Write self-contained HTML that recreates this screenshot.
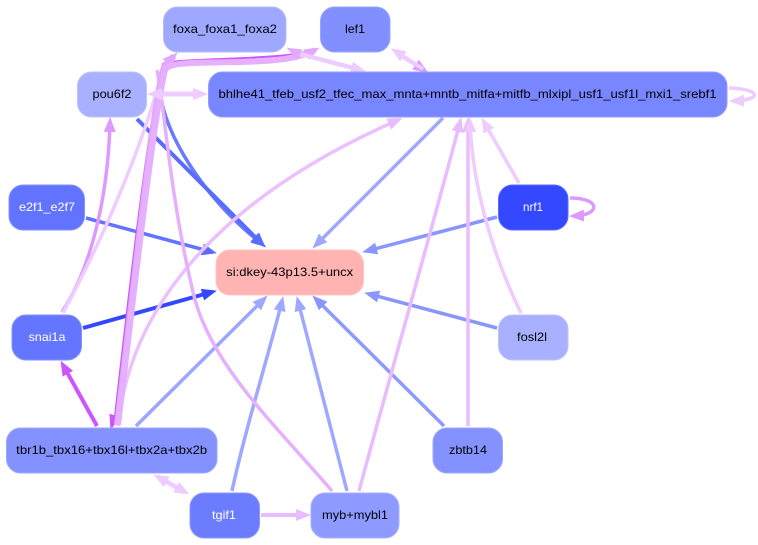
<!DOCTYPE html>
<html><head><meta charset="utf-8"><style>html,body{margin:0;padding:0;background:#fff}svg{display:block}text{font-family:"Liberation Sans",sans-serif;font-size:12px;text-anchor:middle}</style></head><body>
<svg width="758" height="545" viewBox="0 0 758 545" xmlns="http://www.w3.org/2000/svg">
<defs>
<marker id="a" markerUnits="userSpaceOnUse" markerWidth="16" markerHeight="14" refX="10" refY="7" orient="auto"><path d="M0,1L15,7L0,13z" fill="#eeccff"/></marker>
<marker id="b" markerUnits="userSpaceOnUse" markerWidth="16" markerHeight="14" refX="10" refY="7" orient="auto"><path d="M0,1L15,7L0,13z" fill="#e8bcff"/></marker>
<marker id="c" markerUnits="userSpaceOnUse" markerWidth="16" markerHeight="14" refX="10" refY="7" orient="auto"><path d="M0,1L15,7L0,13z" fill="#dd99ff"/></marker>
<marker id="d" markerUnits="userSpaceOnUse" markerWidth="16" markerHeight="14" refX="10" refY="7" orient="auto"><path d="M0,1L15,7L0,13z" fill="#cc55ff"/></marker>
<marker id="e" markerUnits="userSpaceOnUse" markerWidth="16" markerHeight="14" refX="10" refY="7" orient="auto"><path d="M0,1L15,7L0,13z" fill="#9fa8ff"/></marker>
<marker id="f" markerUnits="userSpaceOnUse" markerWidth="16" markerHeight="14" refX="10" refY="7" orient="auto"><path d="M0,1L15,7L0,13z" fill="#8a96ff"/></marker>
<marker id="g" markerUnits="userSpaceOnUse" markerWidth="16" markerHeight="14" refX="10" refY="7" orient="auto"><path d="M0,1L15,7L0,13z" fill="#5a6cff"/></marker>
<marker id="h" markerUnits="userSpaceOnUse" markerWidth="16" markerHeight="14" refX="10" refY="7" orient="auto"><path d="M0,1L15,7L0,13z" fill="#3348ff"/></marker>
<marker id="i" markerUnits="userSpaceOnUse" markerWidth="16" markerHeight="14" refX="10" refY="7" orient="auto"><path d="M0,1L15,7L0,13z" fill="#e0a8ff"/></marker>
</defs>
<g fill="none" stroke-width="3.5">
<path d="M160,90C163,130 200,195 262,244" stroke="#6a7aff" marker-end="url(#g)"/>
<path d="M137,119L262,244" stroke="#5a6cff" stroke-width="4" marker-end="url(#g)"/>
<path d="M86,218L212,252" stroke="#6274ff" marker-end="url(#g)"/>
<path d="M443,118L316,245" stroke="#9fa8ff" marker-end="url(#e)"/>
<path d="M497,217L367,251" stroke="#8a96ff" marker-end="url(#f)"/>
<path d="M497,328L369,294" stroke="#8a96ff" marker-end="url(#f)"/>
<path d="M83,328L212,292" stroke="#3348ff" stroke-width="4" marker-end="url(#h)"/>
<path d="M136,426L264,299" stroke="#9aa6ff" marker-end="url(#e)"/>
<path d="M232,491C245,430 270,350 282,301" stroke="#9fa8ff" marker-end="url(#e)"/>
<path d="M347,491L298,301" stroke="#9fa8ff" marker-end="url(#e)"/>
<path d="M444,426L316,299" stroke="#8e9aff" marker-end="url(#f)"/>
<path d="M468,426L468,122" stroke="#ebbcff" marker-end="url(#b)"/>
<path d="M359,491C400,340 440,200 460,122" stroke="#e8bcff" marker-end="url(#b)"/>
<path d="M521,313C490,250 472,180 470,122" stroke="#eeccff" marker-end="url(#a)"/>
<path d="M519,183L484,122" stroke="#eeccff" marker-end="url(#a)"/>
<path d="M118,426C130,310 215,200 398,120" stroke="#ebc0ff" marker-end="url(#b)"/>
<path d="M62,312C90,270 108,200 110,122" stroke="#dd99ff" marker-end="url(#c)"/>
<path d="M63,313C105,235 145,140 163,68" stroke="#eeccff"/>
<path d="M97,426L63,365" stroke="#cc55ff" stroke-width="4" marker-end="url(#d)"/>
<path d="M332,491C280,430 215,370 195,300C170,200 165,110 157,70" stroke="#e6b0ff"/>
<path d="M113,422L112,425" stroke="#cc55ff" marker-end="url(#d)"/>
<path d="M114,425C126,320 148,120 163,64C168,58 290,60 307,51" stroke="#cc55ff" stroke-width="2"/>
<path d="M117,425C130,320 150,125 163,70C166,62 172,58 174,56" stroke="#e0a8ff" stroke-width="6" marker-end="url(#i)"/>
<path d="M118,425C131,320 152,125 165,70C170,62 190,63 240,62C280,61 300,58 315,50" stroke="#e6b0ff" stroke-width="6" marker-end="url(#i)"/>
<path d="M300,54L361,70" stroke="#eeccff" stroke-width="4.5" marker-end="url(#a)"/>
<path d="M300,55L291,50" stroke="#e6b0ff" stroke-width="4" marker-end="url(#i)"/>
<path d="M396,52L424,70" stroke="#e0a0ff" stroke-width="4" marker-end="url(#c)"/>
<path d="M423,69L395,51" stroke="#eeccff" stroke-width="4" marker-end="url(#a)"/>
<path d="M160,94L203,94" stroke="#eeccff" stroke-width="5" marker-end="url(#a)"/>
<path d="M165,94L152,94" stroke="#eeccff" stroke-width="4" marker-end="url(#a)"/>
<path d="M729,88C762,89 762,100 734,101" stroke="#eeccff" marker-end="url(#a)"/>
<path d="M570,198C601,198 601,215 574,216" stroke="#dd99ff" marker-end="url(#c)"/>
<path d="M158,477L185,492" stroke="#eeccff" stroke-width="4.5" marker-end="url(#a)"/>
<path d="M185,492L158,477" stroke="#eeccff" stroke-width="4.5" marker-end="url(#a)"/>
<path d="M261,515L306,515" stroke="#e8bcff" stroke-width="4" marker-end="url(#b)"/>
</g>
<g stroke-width="1">
<rect x="163.5" y="7" width="122.5" height="45" rx="14" fill="#9fa8ff" stroke="#b4bbff"/>
<rect x="320.5" y="7" width="69.5" height="45" rx="14" fill="#8290ff" stroke="#98a3ff"/>
<rect x="77.5" y="72" width="69" height="45" rx="14" fill="#a8b0ff" stroke="#bcc2ff"/>
<rect x="208.5" y="72" width="518.5" height="45" rx="14" fill="#7886ff" stroke="#929dff"/>
<rect x="9" y="185" width="75.5" height="45" rx="14" fill="#6274ff" stroke="#8492ff"/>
<rect x="498.5" y="185" width="69.5" height="45" rx="14" fill="#3348ff" stroke="#5a6cff"/>
<rect x="216" y="250" width="147.5" height="45" rx="14" fill="#ffb3b3" stroke="#ffc4c4"/>
<rect x="12" y="315" width="69.5" height="45" rx="14" fill="#6476ff" stroke="#8492ff"/>
<rect x="498.5" y="315" width="69.5" height="45" rx="14" fill="#a8b0ff" stroke="#bcc2ff"/>
<rect x="6.5" y="428" width="210.5" height="45" rx="14" fill="#8492ff" stroke="#9ca6ff"/>
<rect x="433" y="428" width="69.5" height="45" rx="14" fill="#8492ff" stroke="#9ca6ff"/>
<rect x="190" y="493" width="69.5" height="45" rx="14" fill="#6c7cff" stroke="#8c98ff"/>
<rect x="311" y="493" width="88" height="45" rx="14" fill="#8e9aff" stroke="#a6b0ff"/>
</g>
<g fill="#000">
<text x="225" y="33" textLength="104" lengthAdjust="spacingAndGlyphs">foxa_foxa1_foxa2</text>
<text x="355" y="33" textLength="20" lengthAdjust="spacingAndGlyphs">lef1</text>
<text x="112" y="98" textLength="39" lengthAdjust="spacingAndGlyphs">pou6f2</text>
<text x="467.5" y="98" textLength="498" lengthAdjust="spacingAndGlyphs">bhlhe41_tfeb_usf2_tfec_max_mnta+mntb_mitfa+mitfb_mlxipl_usf1_usf1l_mxi1_srebf1</text>
<text x="289.7" y="276" textLength="127" lengthAdjust="spacingAndGlyphs">si:dkey-43p13.5+uncx</text>
<text x="532" y="341" textLength="30" lengthAdjust="spacingAndGlyphs">fosl2l</text>
<text x="111.7" y="454" textLength="191" lengthAdjust="spacingAndGlyphs">tbr1b_tbx16+tbx16l+tbx2a+tbx2b</text>
<text x="468" y="454" textLength="38" lengthAdjust="spacingAndGlyphs">zbtb14</text>
<text x="355" y="519" textLength="66" lengthAdjust="spacingAndGlyphs">myb+mybl1</text>
</g>
<g fill="#fff">
<text x="47" y="211" textLength="56" lengthAdjust="spacingAndGlyphs">e2f1_e2f7</text>
<text x="533" y="211" textLength="20" lengthAdjust="spacingAndGlyphs">nrf1</text>
<text x="47" y="341" textLength="37" lengthAdjust="spacingAndGlyphs">snai1a</text>
<text x="224" y="519" textLength="24" lengthAdjust="spacingAndGlyphs">tgif1</text>
</g>
</svg>
</body></html>
